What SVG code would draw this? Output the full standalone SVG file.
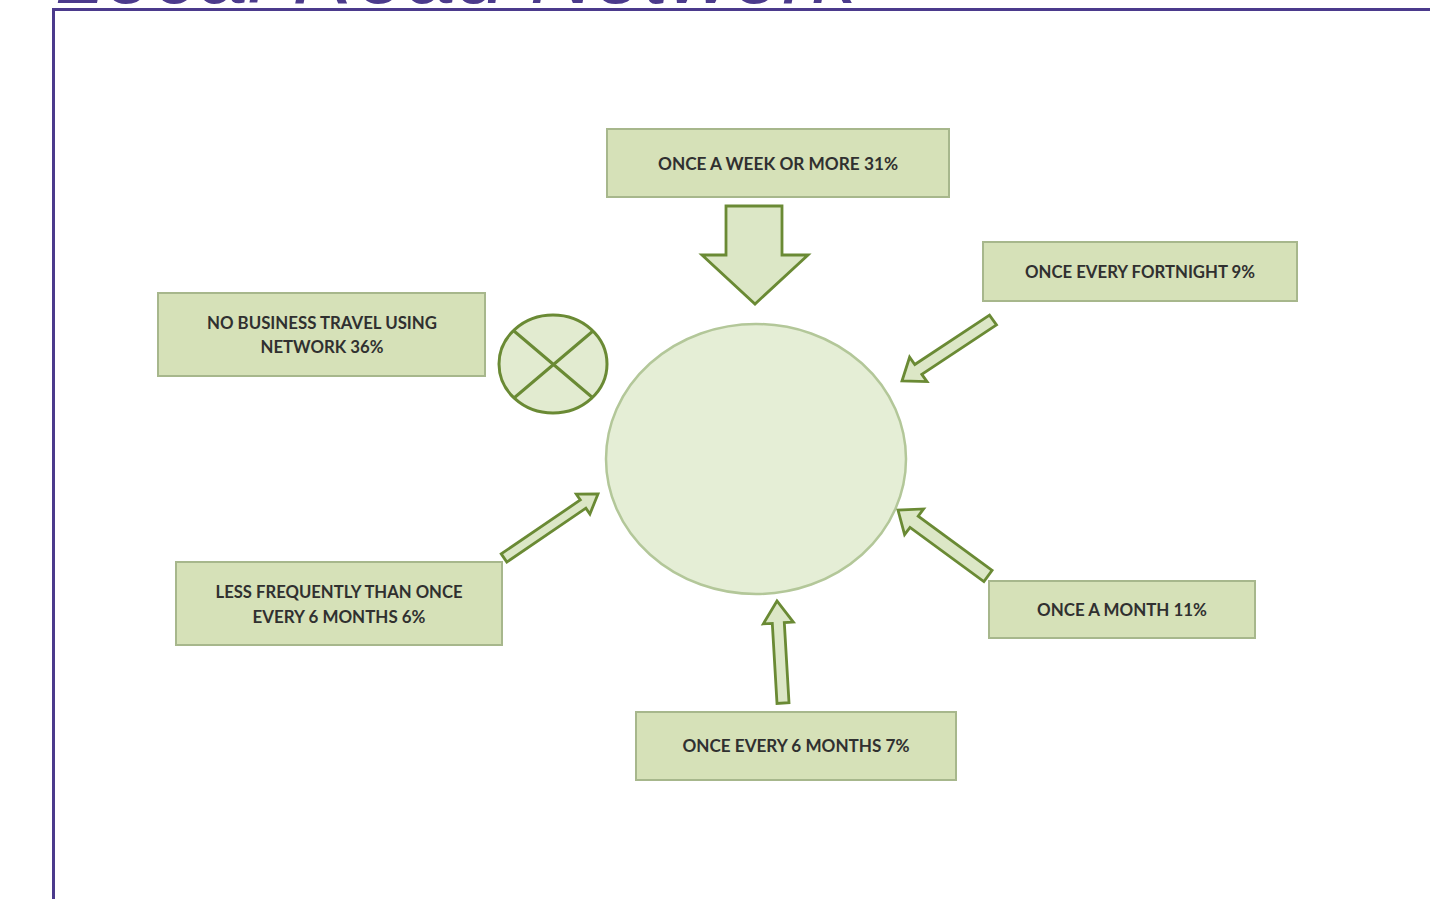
<svg xmlns="http://www.w3.org/2000/svg" width="1430" height="899" viewBox="0 0 1430 899">
<style>
.box{fill:#D6E1B8;stroke:#A7B78C;stroke-width:2}
.lbl{font-family:Lato,"Liberation Sans",sans-serif;font-size:16.5px;font-weight:bold;fill:#303030;text-anchor:middle}
.arr{fill:#DCE7C6;stroke:#6A8A34;stroke-width:2.8;stroke-linejoin:miter}
.title{font-family:"Liberation Sans",Arial,sans-serif;font-style:italic;font-size:89px;fill:#4B3A8C}
</style>
<rect width="1430" height="899" fill="#FFFFFF"/>
<text class="title" x="55" y="2.5">Local Road Network</text>
<path d="M53.5,899 V9.5 H1430" fill="none" stroke="#4B3A8C" stroke-width="3"/>

<g id="center">
<ellipse cx="756" cy="459" rx="150" ry="135" fill="#E5EED6" stroke="#B3C799" stroke-width="2.5"/>
</g>

<g id="node-week">
<rect class="box" x="607" y="129" width="342" height="68"/>
<text class="lbl" x="778" y="170" textLength="240" lengthAdjust="spacingAndGlyphs">ONCE A WEEK OR MORE  31%</text>
</g>

<g id="node-fortnight">
<rect class="box" x="983" y="242" width="314" height="59"/>
<text class="lbl" x="1140" y="278" textLength="230" lengthAdjust="spacingAndGlyphs">ONCE EVERY FORTNIGHT 9%</text>
</g>

<g id="node-none">
<rect class="box" x="158" y="293" width="327" height="83"/>
<text class="lbl" x="322" y="329" textLength="230" lengthAdjust="spacingAndGlyphs">NO BUSINESS TRAVEL USING</text>
<text class="lbl" x="322" y="353" textLength="123" lengthAdjust="spacingAndGlyphs">NETWORK 36%</text>
</g>

<g id="node-none-symbol">
<ellipse cx="553" cy="364" rx="54" ry="49" fill="#E2EBD0" stroke="#6A8A34" stroke-width="3"/>
<path d="M514,331 L593,398 M593,331 L514,398" stroke="#6A8A34" stroke-width="3" fill="none"/>
</g>

<g id="node-less">
<rect class="box" x="176" y="562" width="326" height="83"/>
<text class="lbl" x="339" y="598" textLength="247" lengthAdjust="spacingAndGlyphs">LESS FREQUENTLY THAN ONCE</text>
<text class="lbl" x="339" y="623" textLength="173" lengthAdjust="spacingAndGlyphs">EVERY 6 MONTHS 6%</text>
</g>

<g id="node-month">
<rect class="box" x="989" y="581" width="266" height="57"/>
<text class="lbl" x="1122" y="616" textLength="170" lengthAdjust="spacingAndGlyphs">ONCE A MONTH 11%</text>
</g>

<g id="node-6months">
<rect class="box" x="636" y="712" width="320" height="68"/>
<text class="lbl" x="796" y="752" textLength="227" lengthAdjust="spacingAndGlyphs">ONCE EVERY 6 MONTHS  7%</text>
</g>

<g id="connectors">
<polygon class="arr" stroke-width="3" points="726,206 782,206 782,255 808,255 755,304 702,255 726,255"/>
<polygon class="arr" points="996.5,324.9 921.8,374.3 927,381.6 902,381 909.6,357.2 914.8,364.5 989.5,315.1"/>
<polygon class="arr" points="992.1,570.4 918.2,516.2 923.6,508.9 898,510 904.6,534.7 910,527.4 983.9,581.6"/>
<polygon class="arr" points="506.8,562.1 585.9,508.2 589.9,514 598,494 576.3,494.2 580.3,500 501.2,553.9"/>
<polygon class="arr" points="789,702.6 784.3,622.6 793.3,622.1 777,601 763.3,623.9 772.3,623.4 777,703.4"/>
</g>
</svg>
